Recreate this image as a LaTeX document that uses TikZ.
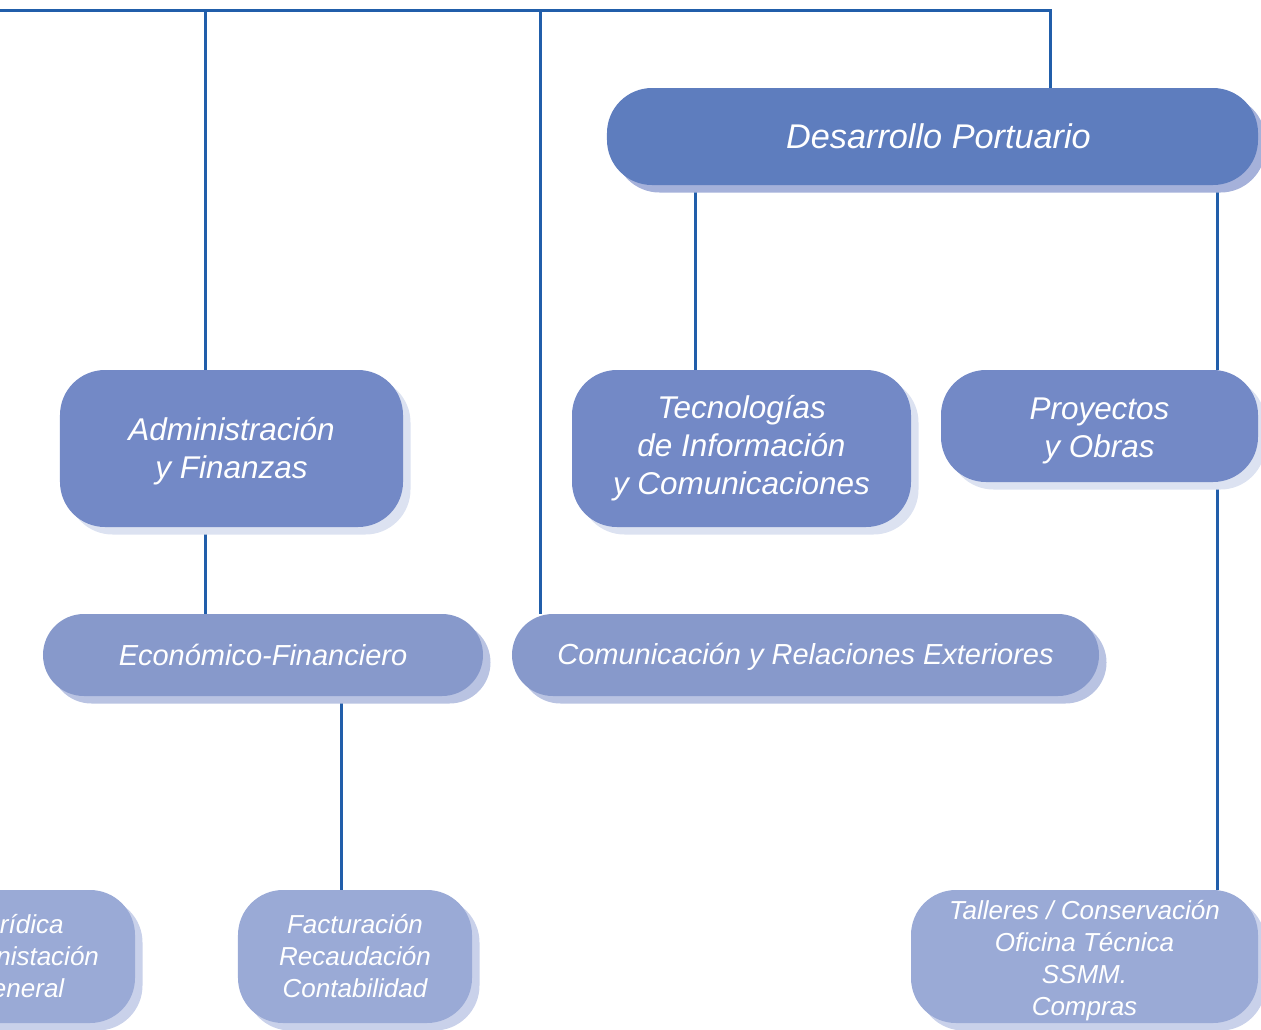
\documentclass[tikz,border=0pt]{standalone}
\usepackage{fontspec}
\setmainfont{Liberation Sans}
\usetikzlibrary{shadows,backgrounds}

\definecolor{linea}{RGB}{33,94,170}
\definecolor{azulA}{RGB}{94,125,190}
\definecolor{sombraA}{RGB}{165,177,218}
\definecolor{azulB}{RGB}{115,137,198}
\definecolor{sombraB}{RGB}{220,226,241}
\definecolor{azulC}{RGB}{135,153,203}
\definecolor{sombraC}{RGB}{185,195,226}
\definecolor{azulD}{RGB}{154,170,214}
\definecolor{sombraD}{RGB}{201,209,234}

\begin{document}
\begin{tikzpicture}[x=0.2mm, y=-0.2mm,
   every node/.style={rounded corners=9mm, inner sep=0pt, align=center, text=white},
   conn/.style={draw=linea, line width=0.6mm},
   nivel 1/.style={fill=azulA, general shadow={fill=sombraA, shadow xshift=1.5mm, shadow yshift=-1.5mm},
      font=\itshape\fontsize{19.5}{23}\selectfont},
   nivel 2/.style={fill=azulB, general shadow={fill=sombraB, shadow xshift=1.5mm, shadow yshift=-1.5mm},
      font=\itshape\fontsize{17.9}{21.6}\selectfont},
   nivel 3/.style={fill=azulC, general shadow={fill=sombraC, shadow xshift=1.5mm, shadow yshift=-1.5mm},
      rounded corners=8.2mm, font=\itshape\fontsize{16.5}{20}\selectfont},
   nivel 4/.style={fill=azulD, general shadow={fill=sombraD, shadow xshift=1.5mm, shadow yshift=-1.5mm},
      font=\itshape\fontsize{14.8}{18.2}\selectfont}]
\useasboundingbox (0,0) rectangle (1261,1030);

\begin{scope}
\clip (0,0) rectangle (1261,1030);
% direccion
\node[nivel 1, minimum width=130.2mm, minimum height=19.4mm] (dp) at (932.5,136.5) {\hspace*{2.4mm}Desarrollo Portuario};
% areas
\node[nivel 2, minimum width=68.6mm, minimum height=31.4mm] (af) at (231.5,448.5) {\rule{0pt}{16.7pt}Administración\\y Finanzas};
\node[nivel 2, minimum width=67.8mm, minimum height=31.4mm] (ti) at (741.5,448.5) {Tecnologías\\de Información\\y Comunicaciones};
\node[nivel 2, minimum width=63.4mm, minimum height=22.4mm] (po) at (1099.5,426) {\rule{0pt}{18pt}Proyectos\\y Obras};
% departamentos
\node[nivel 3, minimum width=88mm, minimum height=16.4mm] (ef) at (263,655) {Económico-Financiero};
\node[nivel 3, minimum width=117.4mm, minimum height=16.4mm] (cr) at (805.5,655) {\rule{0pt}{14.4pt}Comunicación y Relaciones Exteriores};
% secciones
\node[nivel 4, minimum width=46.8mm, minimum height=26.6mm] (jg) at (18,956.5) {Jurídica\\Administación\\General};
\node[nivel 4, minimum width=46.8mm, minimum height=26.6mm] (fr) at (355,956.5) {Facturación\\Recaudación\\Contabilidad};
\node[nivel 4, minimum width=69.4mm, minimum height=26.6mm] (tc) at (1084.5,956.5) {\rule{0pt}{15.5pt}Talleres / Conservación\\Oficina Técnica\\SSMM.\\Compras};
\end{scope}

\coordinate (raiz) at (-5,10);

% lineas de dependencia, por debajo de las cajas
\begin{scope}[on background layer]
\draw[conn] (raiz) -| ([xshift=23.5mm]dp.north);
\draw[conn] ([xshift=-5.3mm]af.north) coordinate (afn) -- (afn |- raiz);
\draw[conn] ([xshift=5.8mm]cr.north west) coordinate (crn) -- (crn |- raiz);
\draw[conn] ([xshift=-9.3mm]ti.north) coordinate (tin) -- (tin |- dp.south);
\draw[conn] ([xshift=23.5mm]po.north) coordinate (pon) -- (pon |- dp.south);
\draw[conn] ([xshift=23.5mm]po.south) coordinate (pos) -- (pos |- tc.north);
\draw[conn] ([xshift=-5.3mm]af.south) coordinate (afs) -- (afs |- ef.north);
\draw[conn] ([xshift=15.6mm]ef.south) coordinate (efs) -- (efs |- fr.north);
\end{scope}
\end{tikzpicture}
\end{document}
